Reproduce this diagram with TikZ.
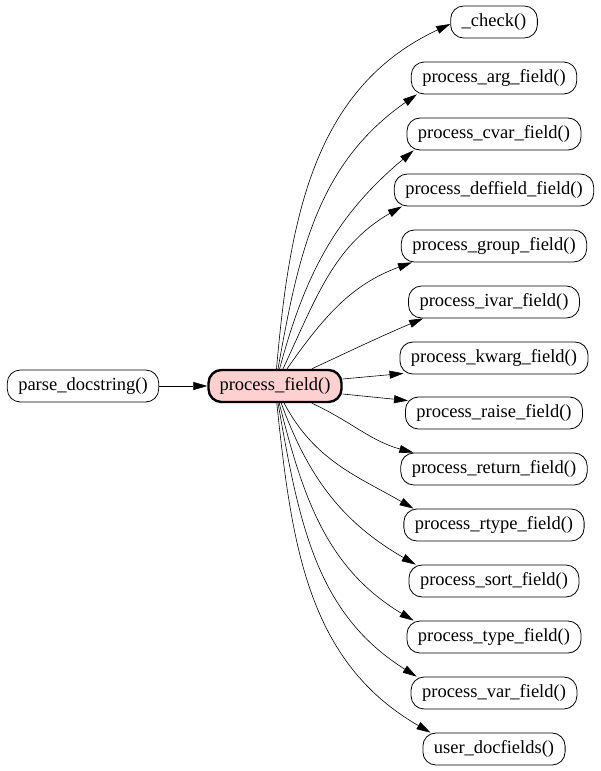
\documentclass[tikz,border=0pt]{standalone}
\usepackage{fontspec}
\setmainfont{Liberation Serif}
\usetikzlibrary{arrows.meta, positioning}
\definecolor{curpink}{RGB}{255,208,208}

\begin{document}
\begin{tikzpicture}[x=1pt, y=1pt, font=\fontsize{18.5}{20}\selectfont,
    fn/.style={draw, line width=0.8pt, rounded corners=13pt, minimum height=32pt, inner xsep=11pt, inner ysep=2pt},
    cur/.style={fn, line width=2.4pt, fill=curpink},
    link/.style={draw, line width=0.6pt, -{Triangle[length=14pt, width=8pt]}}
]
    \useasboundingbox (0,0) rectangle (600,-771);
    \node[fn] (pd) at (83,-386) {parse\_docstring()};
    \node[cur] (pf) at (275,-386) {process\_field()};

    \node[fn] (chk)   at (494,-22)  {\_check()};
    \node[fn] (arg)   at (494,-78)  {process\_arg\_field()};
    \node[fn] (cvar)  at (494,-134) {process\_cvar\_field()};
    \node[fn] (deff)  at (494,-190) {process\_deffield\_field()};
    \node[fn] (grp)   at (494,-246) {process\_group\_field()};
    \node[fn] (ivar)  at (494,-302) {process\_ivar\_field()};
    \node[fn] (kwarg) at (494,-358) {process\_kwarg\_field()};
    \node[fn] (raise) at (494,-413) {process\_raise\_field()};
    \node[fn] (ret)   at (494,-469) {process\_return\_field()};
    \node[fn] (rtype) at (494,-525) {process\_rtype\_field()};
    \node[fn] (sort)  at (494,-581) {process\_sort\_field()};
    \node[fn] (type)  at (494,-637) {process\_type\_field()};
    \node[fn] (var)   at (494,-693) {process\_var\_field()};
    \node[fn] (udf)   at (494,-749) {user\_docfields()};

    \draw[link] (pd) -- (pf);
    % upper fan
    \draw[link] (pf) to[out=85, in=205] ([yshift=-2pt]chk.west);
    \draw[link] (pf) to[out=80, in=215] ([xshift=6pt]arg.south west);
    \draw[link] (pf) to[out=75, in=220] ([xshift=7pt]cvar.south west);
    \draw[link] (pf) to[out=65, in=210] ([xshift=8pt]deff.south west);
    \draw[link] (pf) to[out=55, in=200] ([xshift=11pt]grp.south west);
    \draw[link] (pf) to[out=25, in=203] ([xshift=15pt]ivar.south west);
    % middle
    \draw[link] ([yshift=7pt]pf.east) -- ([xshift=4pt,yshift=1pt]kwarg.south west);
    \draw[link] ([yshift=-8pt]pf.east) -- ([xshift=3pt,yshift=-4pt]raise.north west);
    % lower fan
    \draw[link] (pf) to[out=-25, in=165] ([xshift=13pt]ret.north west);
    \draw[link] (pf) to[out=-62, in=150] ([xshift=10pt]rtype.north west);
    \draw[link] (pf) to[out=-70, in=150] ([xshift=7pt]sort.north west);
    \draw[link] (pf) to[out=-76, in=149] ([xshift=7pt]type.north west);
    \draw[link] (pf) to[out=-80, in=148] ([xshift=6pt]var.north west);
    \draw[link] (pf) to[out=-84, in=150] ([xshift=8pt]udf.north west);
\end{tikzpicture}
\end{document}
